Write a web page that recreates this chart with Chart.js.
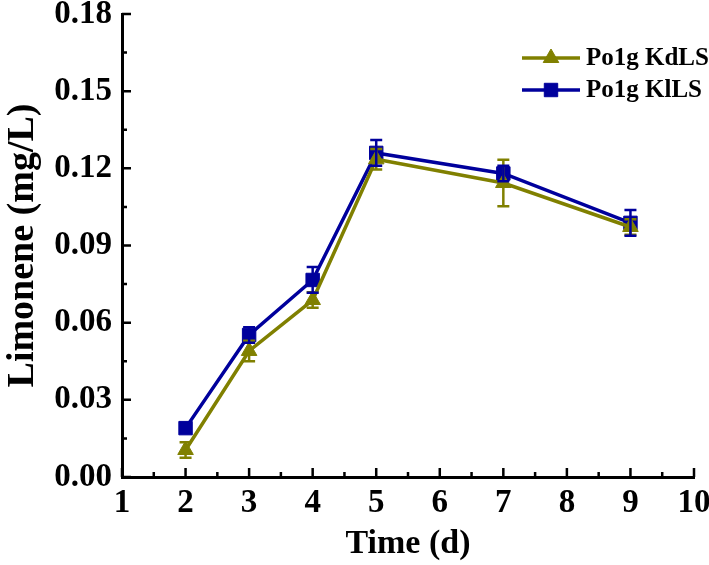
<!DOCTYPE html>
<html>
<head>
<meta charset="utf-8">
<script src="https://cdn.jsdelivr.net/npm/chart.js@4"></script>
<style>
  html, body { margin: 0; padding: 0; background: #fff; }
  #wrap { width: 709px; height: 565px; }
</style>
</head>
<body>
<div id="wrap"><canvas id="chart"></canvas></div>
<script>
// values
const days = [2, 3, 4, 5, 7, 9]
const kdls = [0.0105, 0.049, 0.0688, 0.1235, 0.1143, 0.0972]
const kdlsErr = [0.003, 0.004, 0.003, 0.004, 0.009, 0.003]
const klls = [0.019, 0.0552, 0.0766, 0.126, 0.118, 0.0988]
const kllsErr = [0.001, 0.003, 0.005, 0.005, 0.003, 0.005]
const seriesNames = ['Po1g KdLS', 'Po1g KlLS']
const xTicks = [1, 2, 3, 4, 5, 6, 7, 8, 9, 10]
const yTicks = [0, 0.03, 0.06, 0.09, 0.12, 0.15, 0.18]

const olive = '#808000'
const navy = '#00009c'
const serif = '"Liberation Serif", "Times New Roman", serif'

function pts(xs, ys) {
    return xs.map((x, i) => ({x: x, y: ys[i]}))
}

// error bars, drawn through the scales
const errorBars = {
    id: 'errorBars',
    afterDatasetsDraw(chart) {
        const ctx = chart.ctx
        const xs = chart.scales.x, ys = chart.scales.y
        chart.data.datasets.forEach(ds => {
            ctx.save()
            ctx.strokeStyle = ds.borderColor
            ctx.lineWidth = 2.5
            ds.data.forEach((p, i) => {
                const e = ds.errors[i]
                const px = xs.getPixelForValue(p.x)
                const top = ys.getPixelForValue(p.y + e)
                const bot = ys.getPixelForValue(p.y - e)
                ctx.beginPath()
                ctx.moveTo(px, top); ctx.lineTo(px, bot)
                ctx.moveTo(px - 6, top); ctx.lineTo(px + 6, top)
                ctx.moveTo(px - 6, bot); ctx.lineTo(px + 6, bot)
                ctx.stroke()
            })
            ctx.restore()
        })
    }
}

// inward major/minor tick marks on both axes
const innerTicks = {
    id: 'innerTicks',
    afterDraw(chart) {
        const ctx = chart.ctx
        const xs = chart.scales.x, ys = chart.scales.y
        const a = chart.chartArea
        ctx.save()
        ctx.strokeStyle = '#000'
        ctx.lineWidth = 2.5
        ctx.beginPath()
        xTicks.forEach((v, i) => {
            const px = xs.getPixelForValue(v)
            ctx.moveTo(px, a.bottom); ctx.lineTo(px, a.bottom - 9)
            if (i < xTicks.length - 1) {
                const mx = xs.getPixelForValue(v + 0.5)
                ctx.moveTo(mx, a.bottom); ctx.lineTo(mx, a.bottom - 5)
            }
        })
        yTicks.forEach((v, i) => {
            const py = ys.getPixelForValue(v)
            ctx.moveTo(a.left, py); ctx.lineTo(a.left + 9, py)
            if (i < yTicks.length - 1) {
                const my = ys.getPixelForValue(v + 0.015)
                ctx.moveTo(a.left, my); ctx.lineTo(a.left + 5, my)
            }
        })
        ctx.stroke()
        ctx.restore()
    }
}

// legend with line sample and marker, top right
const lineLegend = {
    id: 'lineLegend',
    afterDraw(chart) {
        const ctx = chart.ctx
        const rows = [58, 90]
        chart.data.datasets.forEach((ds, i) => {
            const y = rows[i]
            ctx.save()
            ctx.strokeStyle = ds.borderColor
            ctx.fillStyle = ds.borderColor
            ctx.lineWidth = 3.5
            ctx.beginPath()
            ctx.moveTo(522, y); ctx.lineTo(580, y)
            ctx.stroke()
            ctx.lineWidth = 1
            Chart.helpers.drawPoint(ctx, {pointStyle: ds.pointStyle, radius: ds.pointRadius, borderWidth: 1, rotation: 0}, 551, y)
            ctx.fillStyle = '#000'
            ctx.font = 'bold 25px ' + serif
            ctx.textBaseline = 'middle'
            ctx.fillText(ds.label, 586, y + 1)
            ctx.restore()
        })
    }
}

const ctx = document.getElementById('chart').getContext('2d')
const chart = new Chart(ctx, {
    type: 'line',
    data: {
        datasets: [{
            label: seriesNames[0],
            data: pts(days, kdls),
            errors: kdlsErr,
            borderColor: olive,
            backgroundColor: olive,
            borderWidth: 3.5,
            pointStyle: 'triangle',
            pointRadius: 9,
            pointBorderWidth: 1,
            tension: 0
        }, {
            label: seriesNames[1],
            data: pts(days, klls),
            errors: kllsErr,
            borderColor: navy,
            backgroundColor: navy,
            borderWidth: 3.5,
            pointStyle: 'rect',
            pointRadius: 9.5,
            pointBorderWidth: 1,
            tension: 0
        }]
    },
    options: {
        responsive: true,
        maintainAspectRatio: false,
        animation: false,
        layout: {padding: {top: 14, right: 15, left: 0, bottom: 0}},
        plugins: {legend: {display: false}, tooltip: {enabled: false}},
        scales: {
            x: {
                type: 'linear',
                min: 1, max: 10,
                afterBuildTicks: s => { s.ticks = xTicks.map(v => ({value: v})) },
                afterFit: s => { s.height = 88; s.paddingLeft = 0; s.paddingRight = 0 },
                grid: {display: false, drawTicks: false},
                border: {display: true, color: '#000', width: 3},
                ticks: {
                    padding: 7,
                    color: '#000',
                    font: {family: serif, size: 33, weight: 'bold'}
                },
                title: {
                    display: true,
                    text: 'Time (d)',
                    color: '#000',
                    padding: {top: 0, bottom: 0},
                    font: {family: serif, size: 34, weight: 'bold'}
                }
            },
            y: {
                min: 0, max: 0.18,
                afterBuildTicks: s => { s.ticks = yTicks.map(v => ({value: v})) },
                afterFit: s => { s.width = 122; s.paddingTop = 0; s.paddingBottom = 0 },
                grid: {display: false, drawTicks: false},
                border: {display: true, color: '#000', width: 3},
                ticks: {
                    padding: 10,
                    color: '#000',
                    font: {family: serif, size: 33, weight: 'bold'},
                    callback: v => v.toFixed(2)
                },
                title: {
                    display: true,
                    text: 'Limonene (mg/L)',
                    color: '#000',
                    padding: 0,
                    font: {family: serif, size: 38, weight: 'bold'}
                }
            }
        }
    },
    plugins: [errorBars, innerTicks, lineLegend]
})
</script>
</body>
</html>
